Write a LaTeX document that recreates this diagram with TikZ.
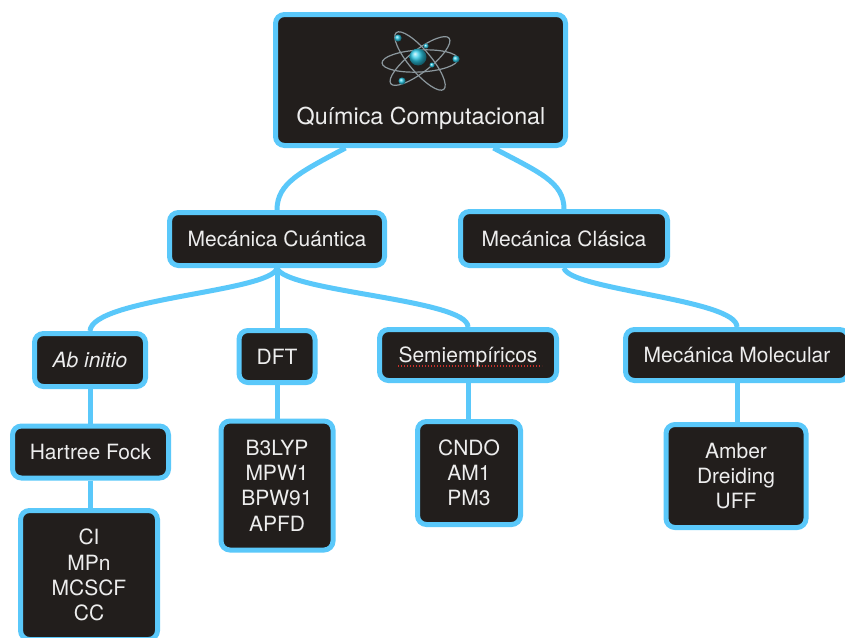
\documentclass[tikz,border=0pt]{standalone}
\usepackage{fontspec}
\setmainfont{TeX Gyre Heros}

\definecolor{edgeblue}{HTML}{5AC8FA}
\definecolor{boxfill}{HTML}{221E1C}
\definecolor{boxtext}{HTML}{EDEDED}
\definecolor{orbitgray}{HTML}{8C989E}
\definecolor{atomcyan}{HTML}{2CCBE8}
\definecolor{spell}{HTML}{C8302A}

\pgfdeclarelayer{back}
\pgfdeclarelayer{links}
\pgfsetlayers{back,links,main}

\tikzset{
  box/.style={draw=edgeblue, line width=5pt, fill=boxfill, rounded corners=9pt,
    text=boxtext, inner sep=0pt, align=center,
    font=\fontsize{21}{25.3}\selectfont},
  link/.style={draw=edgeblue, line width=5pt},
  orbit/.style={draw=orbitgray, line width=1.2pt},
  particle/.style={shading=ball, ball color=atomcyan},
  spellmark/.style={draw=spell, line width=1.4pt, dash pattern=on 1.4pt off 1.6pt},
}

\begin{document}
\begin{tikzpicture}[x=1pt,y=-1pt]
\useasboundingbox (0,0) rectangle (845,637);
\begin{pgfonlayer}{back}
  \fill[white] (0,0) rectangle (845,637);
\end{pgfonlayer}

% root box with atom emblem and title
\node[box, minimum width=290pt, minimum height=131pt] (top) at (420.5,80) {};
\node[text=boxtext, font=\fontsize{23.3}{27}\selectfont, inner sep=0pt] (title) at (421,118) {Química Computacional};

\begin{scope}[shift={(420,61)}]
  \draw[orbit, rotate=3]   (0,0) ellipse [x radius=38pt, y radius=11pt];
  \draw[orbit, rotate=-50] (0,0) ellipse [x radius=37pt, y radius=11pt];
  \draw[orbit, rotate=38]  (0,0) ellipse [x radius=37pt, y radius=11pt];
  \shade[particle] (-2,-4) circle [radius=8.5pt];
  \shade[particle] (-22,-23) circle [radius=3.6pt];
  \shade[particle] (36,-2) circle [radius=3.6pt];
  \shade[particle] (-18,20) circle [radius=3.6pt];
  \shade[particle] (6,-15) circle [radius=2.6pt];
  \shade[particle] (12,4) circle [radius=2.6pt];
\end{scope}

% second level
\node[box, minimum width=215pt, minimum height=53pt] (cuant) at (277,239) {Mecánica Cuántica};
\node[box, minimum width=207pt, minimum height=54pt] (clas) at (564,238.5) {Mecánica Clásica};

% third level
\node[box, minimum width=111pt, minimum height=53pt, font=\fontsize{21}{25.3}\selectfont\itshape] (abinit) at (90,360) {Ab initio};
\node[box, minimum width=76pt, minimum height=52pt] (dft) at (277,356.5) {DFT};
\node[box, minimum width=177pt, minimum height=51pt, text depth=0pt] (semi) at (468,355) {Semiempíricos};
\node[box, minimum width=223pt, minimum height=51pt] (molec) at (737,355) {Mecánica Molecular};

% leaves
\node[box, minimum width=156pt, minimum height=52pt] (hf) at (90.5,452) {Hartree Fock};
\node[box, minimum width=137pt, minimum height=129pt] (ci) at (89,575) {CI\\MPn\\MCSCF\\CC};
\node[box, minimum width=112pt, minimum height=129pt] (b3) at (277,485.5) {B3LYP\\MPW1\\BPW91\\APFD};
\node[box, minimum width=103pt, minimum height=103pt] (cndo) at (469,473) {CNDO\\AM1\\PM3};
\node[box, minimum width=140pt, minimum height=103pt] (amber) at (736,476) {Amber\\Dreiding\\UFF};

% spell-check underline under the word
\draw[spellmark] ([shift={(-70,11)}]semi.center) -- ([shift={(74,11)}]semi.center);

\begin{pgfonlayer}{links}
  \draw[link] ([xshift=-75pt]top.south) .. controls +(-45,24) and +(0,-27) .. (cuant.north);
  \draw[link] ([xshift=73pt]top.south) .. controls +(45,24) and +(0,-27) .. (clas.north);
  \draw[link] (cuant.south) .. controls +(-5,24) and +(2,-33) .. (abinit.north);
  \draw[link] (cuant.south) -- (cuant.south |- dft.north);
  \draw[link] (cuant.south) .. controls +(8,24) and +(0,-28) .. (semi.north);
  \draw[link] (clas.south) .. controls +(5,22) and +(0,-28) .. (molec.north);
  \draw[link] (abinit.south) -- (abinit.south |- hf.north);
  \draw[link] (abinit.south |- hf.south) -- (abinit.south |- ci.north);
  \draw[link] (dft.south) -- (dft.south |- b3.north);
  \draw[link] (semi.south) -- (semi.south |- cndo.north);
  \draw[link] (molec.south) -- (molec.south |- amber.north);
\end{pgfonlayer}
\end{tikzpicture}
\end{document}
